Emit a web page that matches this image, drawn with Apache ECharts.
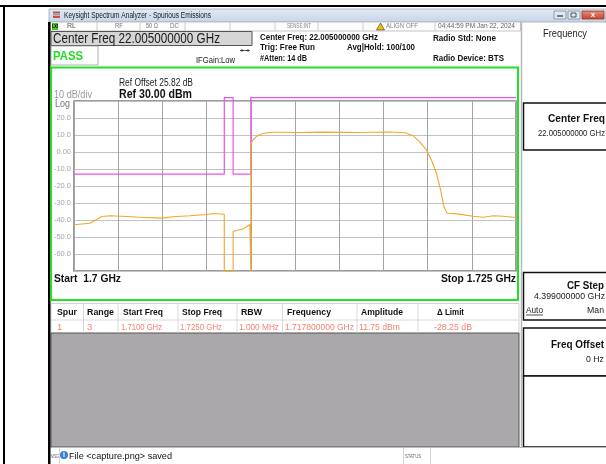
<!DOCTYPE html>
<html>
<head>
<meta charset="utf-8">
<script src="https://cdn.jsdelivr.net/npm/echarts@6/dist/echarts.min.js"></script>
<style>html,body{margin:0;padding:0;background:#fff;}#c{width:606px;height:464px;}</style>
</head>
<body>
<div id="c"></div>
<script>
// ---- data ----
const freqMHz = [1700.00, 1700.90, 1701.57, 1702.04, 1702.98, 1703.73, 1704.96, 1705.60, 1706.56, 1707.51, 1707.88, 1708.50, 1708.50, 1709.00, 1709.00, 1709.20, 1709.58, 1709.95, 1710.00, 1710.00, 1710.15, 1710.35, 1710.60, 1710.90, 1711.30, 1711.65, 1712.78, 1714.08, 1715.99, 1717.80, 1718.72, 1719.19, 1719.57, 1719.95, 1720.23, 1720.51, 1720.74, 1720.93, 1721.11, 1721.65, 1722.58, 1723.15, 1723.72, 1724.28, 1725.00];
const traceDbm = [-42.8, -41.9, -37.9, -37.5, -37.9, -38.4, -38.9, -38.1, -37.5, -36.8, -36.2, -36.6, -70, -70, -46.8, -46.2, -45.2, -42.6, -70, 4.8, 7.5, 9.3, 10.6, 11.3, 11.6, 11.6, 11.5, 11.7, 11.5, 11.75, 11.3, 9.5, 5.8, 0.9, -5.0, -12.8, -22.6, -32.5, -36.0, -36.4, -37.8, -38.4, -37.5, -37.8, -38.5];
const limitFreq = [1700, 1708.5, 1708.5, 1709.0, 1709.0, 1710.0, 1710.0, 1725];
const limitDbm = [-13, -13, 32, 32, -13, -13, 32, 32];
const yTicks = [30, 20, 10, 0, -10, -20, -30, -40, -50, -60, -70];
const tableHeaders = ['Spur', 'Range', 'Start Freq', 'Stop Freq', 'RBW', 'Frequency', 'Amplitude', '\u0394 Limit'];
const tableRow = ['1', '3', '1.7100 GHz', '1.7250 GHz', '1.000 MHz', '1.717800000 GHz', '11.75 dBm', '-28.25 dB'];

// ---- layout helpers ----
const FF = '"Liberation Sans", Arial, sans-serif';
const mctx = document.createElement('canvas').getContext('2d');
function T(text, x, y, size, w, color, bold, align, extra) {
  const weight = bold ? 'bold' : 'normal';
  mctx.font = weight + ' ' + size + 'px ' + FF;
  const m = mctx.measureText(text).width;
  const sx = w ? w / m : 1;
  const a = align || 'left';
  return Object.assign({
    type: 'text', x: x, y: y, scaleX: sx, z: 100, silent: true,
    style: { text: text, fontSize: size, fontFamily: FF, fontWeight: weight, fill: color,
      textAlign: a, textVerticalAlign: 'middle', align: a, verticalAlign: 'middle' }
  }, extra || {});
}
function R(x, y, w, h, fill, stroke, lw, z) {
  return { type: 'rect', z: z || 1, silent: true, shape: { x: x, y: y, width: w, height: h },
    style: { fill: fill || 'none', stroke: stroke || null, lineWidth: lw || 1 } };
}
function L(x1, y1, x2, y2, color, lw, z) {
  return { type: 'line', z: z || 2, silent: true, shape: { x1: x1, y1: y1, x2: x2, y2: y2 },
    style: { stroke: color, lineWidth: lw || 1 } };
}

const g = [];
// outer frame
g.push(R(0, 5, 606, 2, '#000'));
g.push(R(3, 5, 2, 459, '#000'));
// title bar
g.push({ type: 'rect', z: 1, silent: true, shape: { x: 49, y: 9, width: 557, height: 13 },
  style: { fill: new echarts.graphic.LinearGradient(0, 0, 0, 1, [{ offset: 0, color: '#e2eaf4' }, { offset: 1, color: '#c6d5e7' }]), stroke: '#9aa8b8', lineWidth: 0.8 } });
g.push(R(53, 11.5, 7, 2, '#c0504d', null, 1, 3));
g.push(R(53, 14, 7, 1.5, '#999', null, 1, 3));
g.push(R(53, 16, 7, 2, '#c0504d', null, 1, 3));
g.push(T('Keysight Spectrum Analyzer - Spurious Emissions', 64, 15.5, 8.5, 147, '#1a1a1a'));
g.push(R(554, 11, 12, 8, '#dfe7f1', '#7f8ea3', 0.8, 3));
g.push(L(557, 16, 563, 16, '#333', 1.2, 4));
g.push(R(568, 11, 12, 8, '#dfe7f1', '#7f8ea3', 0.8, 3));
g.push(R(571, 13, 5, 4, 'none', '#333', 0.8, 4));
g.push({ type: 'rect', z: 3, silent: true, shape: { x: 582, y: 11, width: 22, height: 8 },
  style: { fill: new echarts.graphic.LinearGradient(0, 0, 0, 1, [{ offset: 0, color: '#e8907e' }, { offset: 1, color: '#c6402a' }]), stroke: '#8a3a2e', lineWidth: 0.8 } });
g.push(T('x', 593, 15, 8, 0, '#fff', true, 'center'));
// window left border
g.push(R(48, 22, 2.5, 442, '#000', null, 1, 5));
// status row
g.push(R(50.5, 22, 470, 9, '#fcfcfc', '#b8b8b8', 0.8));
[97, 140, 185, 230, 275, 318, 363, 435].forEach(function (x) { g.push(L(x, 22, x, 31, '#c4c4c4', 0.8)); });
g.push(R(52, 23, 6, 7, '#4cc52a'));
g.push(T('LXI', 55, 26.5, 5, 6, '#000', true, 'center'));
g.push(T('RL', 67, 26.5, 7, 9, '#555'));
g.push(T('RF', 115, 26.5, 7, 8, '#777'));
g.push(T('50 \u03a9', 146, 26.5, 7, 12, '#777'));
g.push(T('DC', 170, 26.5, 7, 9, '#777'));
g.push(T('SENSE:INT', 287, 26.5, 7, 24, '#888'));
g.push({ type: 'polygon', z: 3, silent: true, shape: { points: [[380.5, 23], [376.5, 30], [384.5, 30]] }, style: { fill: '#f2c200', stroke: '#333', lineWidth: 0.6 } });
g.push(T('ALIGN OFF', 386, 26.5, 7, 32, '#888'));
g.push(T('04:44:59 PM Jan 22, 2024', 438, 26.5, 7, 77, '#666'));
// header info
g.push(R(51, 31.5, 201, 14, '#d6d6d6', '#555', 1));
g.push(T('Center Freq 22.005000000 GHz', 53, 39, 14, 167, '#1a1a1a'));
g.push(R(51, 46, 47, 19, '#fff', '#999', 0.8));
g.push(T('PASS', 53, 56, 13, 30, '#22dd22', true));
g.push(T('IFGain:Low', 196, 60.5, 9, 39, '#222'));
g.push(L(240, 50.5, 250, 50.5, '#333', 0.8));
g.push({ type: 'polygon', z: 3, silent: true, shape: { points: [[244, 50.5], [241.5, 49], [241.5, 52]] }, style: { fill: '#333' } });
g.push({ type: 'polygon', z: 3, silent: true, shape: { points: [[246, 50.5], [248.5, 49], [248.5, 52]] }, style: { fill: '#333' } });
g.push(T('Center Freq: 22.005000000 GHz', 260, 37.5, 9.5, 118, '#111', true));
g.push(T('Trig: Free Run', 260, 47, 9.5, 55, '#111', true));
g.push(T('#Atten: 14 dB', 260, 58, 9.5, 47, '#111', true));
g.push(T('Avg|Hold: 100/100', 347, 47, 9.5, 68, '#111', true));
g.push(T('Radio Std: None', 433, 38, 9.5, 63, '#111', true));
g.push(T('Radio Device: BTS', 433, 58.5, 9.5, 71, '#111', true));
// plot frame
g.push(R(51, 67.5, 467, 232.5, 'none', '#22e022', 2, 50));
g.push(T('Ref Offset 25.82 dB', 119, 83, 10, 74, '#222'));
g.push(T('Ref 30.00 dBm', 119, 94.5, 12, 73, '#111', true));
g.push(T('10 dB/div', 54, 95, 10, 38, '#999'));
g.push(T('Log', 55, 104.5, 10.5, 15, '#777'));
g.push(T('Start  1.7 GHz', 54, 279, 11, 67, '#111', true));
g.push(T('Stop 1.725 GHz', 516, 279, 11, 75, '#111', true, 'right'));
// table
g.push(R(51, 303.5, 468, 30, '#fff', '#c8c8c8', 0.8));
g.push(L(51, 320, 519, 320, '#d0d0d0', 0.8));
[83.5, 118, 178, 237, 282.5, 357, 418].forEach(function (x) { g.push(L(x, 304, x, 333, '#cfcfcf', 0.8)); });
const hx = [57, 87, 123, 182, 241, 287, 361, 437];
const hw = [20, 27, 40, 40, 21, 44, 42, 27];
tableHeaders.forEach(function (h, i) { g.push(T(h, hx[i], 312.5, 9.5, hw[i], '#111', true)); });
const rx = [57, 87, 121, 180, 239, 285, 359, 434];
const rw = [0, 0, 41, 42, 40, 69, 41, 38];
tableRow.forEach(function (t, i) { g.push(T(t, rx[i], 327, 9.5, rw[i], '#f08472')); });
// gray area
g.push(R(51, 333, 468, 114, '#aba8ab', '#555', 1));
// right panel
g.push(L(521.5, 22, 521.5, 447, '#b8b8b8', 1.5));
g.push(T('Frequency', 543, 34, 10.5, 44, '#222'));
g.push(R(523.5, 103, 90, 47, '#fff', '#111', 1.5));
g.push(T('Center Freq', 605, 119, 10.5, 57, '#111', true, 'right'));
g.push(T('22.005000000 GHz', 605, 134, 9, 67, '#222', false, 'right'));
g.push(R(523.5, 272.5, 90, 47.5, '#fff', '#111', 1.5));
g.push(T('CF Step', 604, 286, 10.5, 37, '#111', true, 'right'));
g.push(T('4.399000000 GHz', 605, 296.5, 9, 71, '#222', false, 'right'));
g.push(T('Auto', 526, 310.5, 9, 17, '#222'));
g.push(L(526, 315, 543, 315, '#222', 0.8));
g.push(T('Man', 604, 310.5, 9, 17, '#222', false, 'right'));
g.push(R(523.5, 328, 90, 48, '#fff', '#111', 1.5));
g.push(T('Freq Offset', 604, 345.5, 10.5, 53, '#111', true, 'right'));
g.push(T('0 Hz', 604, 360, 9, 18, '#222', false, 'right'));
g.push(R(523.5, 376, 90, 71, '#fff', '#111', 1.5));
// message bar
g.push(L(50, 447.5, 606, 447.5, '#bbb', 1));
g.push(L(59.5, 448, 59.5, 464, '#ccc', 0.8));
g.push(L(403.5, 448, 403.5, 464, '#ccc', 0.8));
g.push(L(430.5, 448, 430.5, 464, '#ccc', 0.8));
g.push(T('MSG', 51, 456, 5.5, 8, '#666'));
g.push({ type: 'circle', z: 3, silent: true, shape: { cx: 64, cy: 455, r: 4 }, style: { fill: '#3f7fd0' } });
g.push(T('i', 64, 455, 7, 0, '#fff', true, 'center'));
g.push(T('File <capture.png> saved', 69, 456, 9.5, 103, '#111'));
g.push(T('STATUS', 405, 456, 5.5, 16, '#666'));

const chart = echarts.init(document.getElementById('c'), null, { renderer: 'canvas' });
chart.setOption({
  backgroundColor: '#ffffff',
  animation: false,
  grid: { left: 74, top: 101, width: 442, height: 170, show: true, borderColor: '#7c7c7c', borderWidth: 1.5, backgroundColor: '#fff' },
  xAxis: {
    type: 'value', min: 1700, max: 1725, interval: 2.5,
    axisLine: { show: false }, axisTick: { show: false }, axisLabel: { show: false },
    splitLine: { show: true, lineStyle: { color: '#a4a4a4', width: 1 } }
  },
  yAxis: {
    type: 'value', min: -70, max: 30, interval: 10,
    axisLine: { show: false }, axisTick: { show: false },
    axisLabel: {
      margin: 3, fontSize: 7.5, color: '#a6a6a6', fontFamily: FF,
      formatter: function (v) { if (v === 30 || v === -70) return ''; return v === 0 ? '0.00' : v.toFixed(1); }
    },
    splitLine: { show: true, lineStyle: { color: '#c2c2c2', width: 1.2 } }
  },
  series: [
    {
      type: 'line', name: 'Limit', clip: false, symbol: 'none', z: 3,
      data: limitFreq.map(function (f, i) { return [f, limitDbm[i]]; }),
      lineStyle: { color: '#ee4fee', width: 1.2 }
    },
    {
      type: 'line', name: 'Trace', clip: false, symbol: 'none', z: 4,
      data: freqMHz.map(function (f, i) { return [f, traceDbm[i]]; }),
      lineStyle: { color: '#f6a623', width: 1.1 }
    }
  ],
  graphic: { elements: g }
});
</script>
</body>
</html>
